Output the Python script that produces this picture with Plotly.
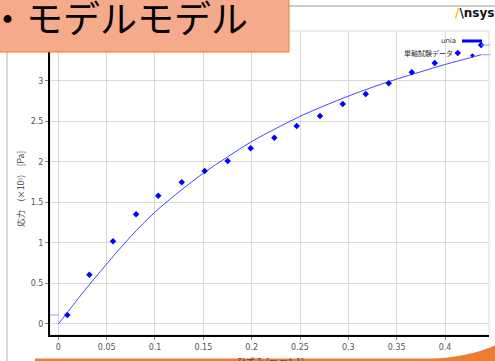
import plotly.graph_objects as go

# Uniaxial test data: strain [m m^-1] vs stress [x10^6 Pa]
strain_data = [0.0093, 0.0321, 0.0566, 0.0804, 0.1034, 0.1277, 0.1514, 0.1752, 0.1990, 0.2234,
               0.2466, 0.2707, 0.2942, 0.3180, 0.3418, 0.3656, 0.3894, 0.4132, 0.4373]
stress_data = [0.111, 0.608, 1.020, 1.353, 1.582, 1.747, 1.887, 2.010, 2.166, 2.297,
               2.441, 2.565, 2.713, 2.836, 2.968, 3.104, 3.218, 3.342, 3.440]

# Fitted material curve ("unia")
strain_fit = [0.0, 0.0125, 0.025, 0.05, 0.075, 0.1, 0.125, 0.15, 0.175, 0.2, 0.225,
              0.25, 0.275, 0.3, 0.325, 0.35, 0.375, 0.4, 0.425, 0.4375]
stress_fit = [0.0, 0.19, 0.38, 0.74, 1.08, 1.38, 1.63, 1.86, 2.06, 2.25, 2.41,
              2.56, 2.69, 2.81, 2.92, 3.02, 3.11, 3.20, 3.28, 3.32]

x_ticks = [0, 0.05, 0.1, 0.15, 0.2, 0.25, 0.3, 0.35, 0.4]
x_tick_text = ["0", "0.05", "0.1", "0.15", "0.2", "0.25", "0.3", "0.35", "0.4"]
y_ticks = [0, 0.5, 1, 1.5, 2, 2.5, 3]
y_tick_text = ["0", "0.5", "1", "1.5", "2", "2.5", "3"]

fit_name = "unia"
data_name = "単軸試験データ"
slide_title = "・モデルモデル"

W, H = 495, 361
L, R, T, B = 50, 489, 31, 335
X_RANGE = [-0.0086, 0.4455]
Y_RANGE = [-0.136, 3.613]


def xp(px):
    return (px - L) / (R - L)


def yp(py):
    return (B - py) / (B - T)


def x_paper(v):
    return (v - X_RANGE[0]) / (X_RANGE[1] - X_RANGE[0])


BLUE = "#0000ff"
FIT_BLUE = "#4646ff"
EXT_BLUE = "#9a9aff"
GRID = "#d9d9d9"
TICK_FONT = dict(family="DejaVu Sans", size=8, color="#555555")

fig = go.Figure()
fig.add_trace(go.Scatter(x=strain_fit, y=stress_fit, mode="lines", name=fit_name,
                         line=dict(color=FIT_BLUE, width=1, shape="spline"),
                         showlegend=False))
fig.add_trace(go.Scatter(x=strain_data, y=stress_data, mode="markers", name=data_name,
                         marker=dict(symbol="diamond", size=5, color=BLUE),
                         showlegend=False, cliponaxis=False))

shapes = []
# plot frame
shapes.append(dict(type="rect", xref="paper", yref="paper", x0=0, x1=1, y0=0, y1=1,
                   line=dict(color=GRID, width=1), layer="below"))
# dashed extrapolation of the data and fit beyond their ranges
shapes.append(dict(type="line", xref="paper", yref="y", x0=0, x1=x_paper(strain_data[0]),
                   y0=stress_data[0], y1=stress_data[0],
                   line=dict(color=EXT_BLUE, width=1, dash="dash")))
shapes.append(dict(type="line", xref="paper", yref="y", x0=x_paper(strain_data[-1]), x1=xp(W),
                   y0=stress_data[-1], y1=stress_data[-1],
                   line=dict(color=EXT_BLUE, width=1, dash="dash")))
shapes.append(dict(type="line", xref="paper", yref="y", x0=x_paper(strain_fit[-1]), x1=xp(W),
                   y0=stress_fit[-1], y1=stress_fit[-1],
                   line=dict(color=EXT_BLUE, width=1, dash="dash")))
# legend line sample
shapes.append(dict(type="line", xref="paper", yref="paper", x0=xp(462), x1=xp(482),
                   y0=yp(41), y1=yp(41), line=dict(color=BLUE, width=3)))
# slide frame lines
shapes.append(dict(type="line", xref="paper", yref="paper", x0=xp(0), x1=xp(W),
                   y0=yp(6), y1=yp(6), line=dict(color="#9a9a9a", width=1)))
shapes.append(dict(type="line", xref="paper", yref="paper", x0=xp(7), x1=xp(7),
                   y0=yp(0), y1=yp(H), line=dict(color="#b0b0b0", width=1)))
# title box
shapes.append(dict(type="rect", xref="paper", yref="paper", x0=xp(-3), x1=xp(289),
                   y0=yp(52), y1=yp(-3), fillcolor="#f5ab8b",
                   line=dict(color="#ed7d31", width=1), layer="above"))
# orange swoosh at the bottom
path = "M {} {} L {} {} Q {} {} {} {} L {} {} Q {} {} {} {} L {} {} Z".format(
    xp(35), yp(358.6),
    xp(430), yp(358.6),
    xp(468), yp(357.5), xp(496), yp(345),
    xp(496), yp(362),
    xp(470), yp(362), xp(430), yp(362),
    xp(35), yp(362))
shapes.append(dict(type="path", xref="paper", yref="paper", path=path,
                   fillcolor="#ed7d31", line=dict(width=0), layer="above"))

annotations = [
    dict(text=slide_title, xref="paper", yref="paper", x=xp(-13), y=yp(17),
         xanchor="left", yanchor="middle", showarrow=False,
         font=dict(family="Noto Sans CJK JP", size=37, color="#000000")),
    dict(text="<b><span style='color:#ffb71b'>/</span>\\nsys</b>", xref="paper", yref="paper",
         x=xp(W + 1), y=yp(13), xanchor="right", yanchor="middle", showarrow=False,
         font=dict(family="DejaVu Sans", size=12, color="#111111")),
    dict(text=fit_name, xref="paper", yref="paper", x=xp(458), y=yp(41),
         xanchor="right", yanchor="middle", showarrow=False,
         font=dict(family="DejaVu Sans", size=7, color="#333333")),
    dict(text=data_name, xref="paper", yref="paper", x=xp(455), y=yp(53),
         xanchor="right", yanchor="middle", showarrow=False,
         font=dict(family="Noto Sans CJK JP", size=7, color="#333333")),
    dict(text="◆", xref="paper", yref="paper", x=xp(472), y=yp(54),
         xanchor="center", yanchor="middle", showarrow=False,
         font=dict(family="DejaVu Sans", size=6, color=BLUE)),
    dict(text="応力\u3000(×10⁶)\u3000[Pa]", xref="paper", yref="paper", x=xp(20), y=yp(189),
         xanchor="center", yanchor="middle", textangle=-90, showarrow=False,
         font=dict(family="Noto Sans CJK JP", size=8.5, color="#444444")),
    dict(text="ひずみ [m m^-1]", xref="paper", yref="paper", x=xp(270), y=yp(353),
         xanchor="center", yanchor="top", showarrow=False,
         font=dict(family="Noto Sans CJK JP", size=9, color="#444444")),
]

fig.update_layout(
    width=W, height=H,
    margin=dict(l=L, r=W - R, t=T, b=H - B, pad=0),
    paper_bgcolor="white", plot_bgcolor="white",
    shapes=shapes, annotations=annotations,
    xaxis=dict(range=X_RANGE, tickvals=x_ticks, ticktext=x_tick_text,
               showgrid=True, gridcolor=GRID, gridwidth=1, zeroline=False,
               showline=True, linecolor="#000000", linewidth=2,
               ticks="outside", ticklen=3, tickcolor="#888888", tickfont=TICK_FONT),
    yaxis=dict(range=Y_RANGE, tickvals=y_ticks, ticktext=y_tick_text,
               showgrid=True, gridcolor=GRID, gridwidth=1, zeroline=False,
               showline=True, linecolor="#000000", linewidth=2,
               ticks="outside", ticklen=3, tickcolor="#888888", tickfont=TICK_FONT),
)

fig.write_html("out.html")
